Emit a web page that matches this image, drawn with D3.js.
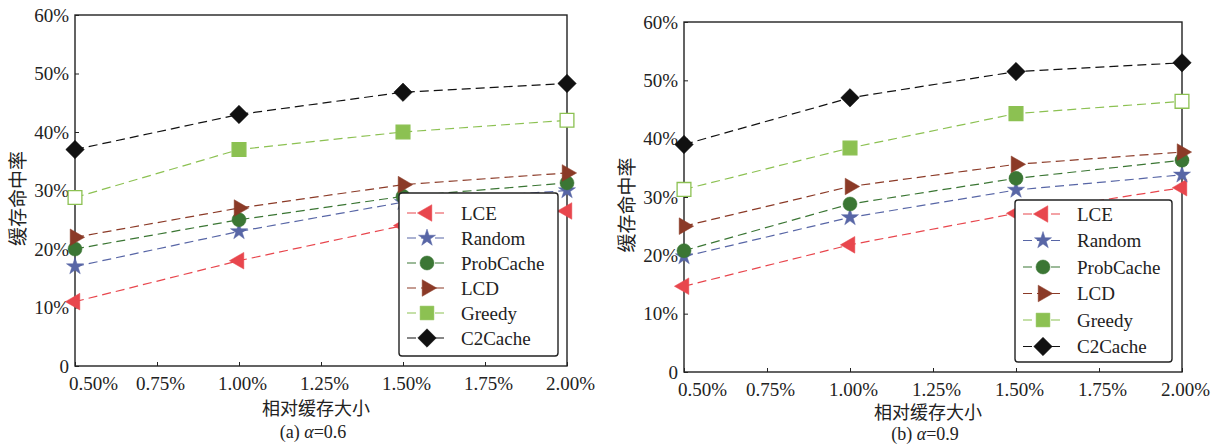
<!DOCTYPE html>
<html>
<head>
<meta charset="utf-8">
<script src="https://cdn.jsdelivr.net/npm/d3@7"></script>
<style>
  body { margin: 0; background: #fff; }
  svg { display: block; }
  .tick text { font-family: 'Liberation Serif', 'Times New Roman', serif; }
</style>
</head>
<body>
<script>
// relative cache size (%)
const sizes = [0.5, 1.0, 1.5, 2.0]
const xTicks = [0.5, 0.75, 1.0, 1.25, 1.5, 1.75, 2.0]
const yTicks = [0, 10, 20, 30, 40, 50, 60]

const names = ["LCE", "Random", "ProbCache", "LCD", "Greedy", "C2Cache"]
const colors = ["#e8464d", "#5866a6", "#3b7634", "#8b3a27", "#8cc152", "#111111"]

// hit ratio (%), alpha = 0.6
const lceA = [11, 18, 24, 26.5]
const randomA = [17, 23, 28, 30]
const probA = [20, 25, 29, 31.3]
const lcdA = [22, 27, 31, 33]
const greedyA = [28.8, 37, 40, 42]
const c2A = [37, 43, 46.8, 48.3]

// hit ratio (%), alpha = 0.9
const lceB = [14.7, 21.8, 27.2, 31.6]
const randomB = [19.8, 26.5, 31.2, 33.8]
const probB = [20.8, 28.8, 33.2, 36.3]
const lcdB = [25, 31.8, 35.6, 37.7]
const greedyB = [31.3, 38.4, 44.3, 46.4]
const c2B = [39, 47, 51.5, 53]

const W = 1214, H = 447
const serif = "'Liberation Serif', 'Times New Roman', serif"
const cjk = "'Noto Sans CJK SC', sans-serif"
const svg = d3.select("body").append("svg").attr("width", W).attr("height", H)
  .style("font-family", serif)

const symbols = [
  {type: d3.symbolTriangle, size: 120, rot: -90},
  {type: d3.symbolStar, size: 90, rot: 0},
  {type: d3.symbolCircle, size: 155, rot: 0},
  {type: d3.symbolTriangle, size: 120, rot: 90},
  {type: d3.symbolSquare, size: 190, rot: 0},
  {type: d3.symbolSquare, size: 170, rot: 45}
]

function drawPanel(p) {
  const x = d3.scaleLinear().domain([0.5, 2.0]).range([p.left, p.right])
  const y = d3.scaleLinear().domain([0, 60]).range([p.bottom, p.top])
  const g = svg.append("g")

  // frame
  g.append("rect").attr("x", p.left).attr("y", p.top)
    .attr("width", p.right - p.left).attr("height", p.bottom - p.top)
    .attr("fill", "none").attr("stroke", "#222").attr("stroke-width", 1.4)

  // y axis, ticks inward
  const yAxis = g.append("g").attr("transform", `translate(${p.left},0)`)
    .call(d3.axisRight(y).tickValues(yTicks).tickSize(4).tickFormat(d => d === 0 ? "0" : d + "%"))
    .attr("font-size", 19)
  yAxis.select(".domain").remove()
  yAxis.selectAll(".tick line").attr("stroke", "#222")
  yAxis.selectAll(".tick text").attr("x", -6).attr("text-anchor", "end").attr("fill", "#222")

  // x axis, ticks inward
  const xAxis = g.append("g").attr("transform", `translate(0,${p.bottom})`)
    .call(d3.axisTop(x).tickValues(xTicks).tickSize(4).tickFormat(d => d.toFixed(2) + "%"))
    .attr("font-size", 19)
  xAxis.select(".domain").remove()
  xAxis.selectAll(".tick line").attr("stroke", "#222")
  xAxis.selectAll(".tick text").attr("y", 24).attr("dy", null).attr("fill", "#222")
    .attr("dx", (d, i) => i === 0 ? 18 : 3)

  const line = d3.line().x((d, i) => x(sizes[i])).y(d => y(d))

  p.series.forEach((vals, k) => {
    g.append("path").datum(vals).attr("d", line)
      .attr("fill", "none").attr("stroke", colors[k]).attr("stroke-width", 1.2)
      .attr("stroke-dasharray", "9,5")
  })
  p.series.forEach((vals, k) => {
    const s = symbols[k]
    g.selectAll(null).data(vals).join("path")
      .attr("d", d3.symbol(s.type, s.size))
      .attr("transform", (d, i) => `translate(${x(sizes[i])},${y(d)}) rotate(${s.rot})`)
      .attr("fill", (d, i) => k === 4 && (i === 0 || i === vals.length - 1) ? "#fff" : colors[k])
      .attr("stroke", colors[k]).attr("stroke-width", k === 4 ? 1.3 : 0.5)
  })

  // legend
  const lg = g.append("g")
  lg.append("rect").attr("x", p.lx).attr("y", p.ly)
    .attr("width", p.lw).attr("height", p.lh).attr("rx", 3)
    .attr("fill", "#fff").attr("stroke", "#222").attr("stroke-width", 1.4)
  names.forEach((n, k) => {
    const cy = p.ly + p.row0 + k * p.rowH
    const x0 = p.lx + 8
    lg.append("line").attr("x1", x0).attr("x2", x0 + 40).attr("y1", cy).attr("y2", cy)
      .attr("stroke", colors[k]).attr("stroke-width", 1.2).attr("stroke-dasharray", "9,5")
    const s = symbols[k]
    lg.append("path").attr("d", d3.symbol(s.type, s.size))
      .attr("transform", `translate(${x0 + 20},${cy}) rotate(${s.rot})`)
      .attr("fill", colors[k]).attr("stroke", colors[k]).attr("stroke-width", 0.5)
    lg.append("text").attr("x", x0 + 54).attr("y", cy).attr("dy", "0.35em")
      .attr("font-size", 19).attr("fill", "#222").text(n)
  })

  // titles
  g.append("text").attr("transform", `translate(${p.left - 57},${(p.top + p.bottom) / 2 + 8}) rotate(-90)`)
    .attr("dy", "0.35em").attr("text-anchor", "middle").attr("font-size", 19).attr("fill", "#222")
    .attr("font-family", cjk).text("缓存命中率")
  g.append("text").attr("x", (p.left + p.right) / 2 - 5).attr("y", p.bottom + p.tY)
    .attr("text-anchor", "middle").attr("font-size", 18).attr("fill", "#222")
    .attr("font-family", cjk).text("相对缓存大小")
  const cap = g.append("text").attr("x", (p.left + p.right) / 2 - 8).attr("y", p.bottom + p.cY)
    .attr("text-anchor", "middle").attr("font-size", 18).attr("fill", "#222")
  cap.append("tspan").text(p.tag + " ")
  cap.append("tspan").attr("font-style", "italic").text("α")
  cap.append("tspan").text("=" + p.alpha)
}

drawPanel({
  left: 75, right: 567, top: 15, bottom: 366,
  series: [lceA, randomA, probA, lcdA, greedyA, c2A],
  lx: 399, ly: 193, lw: 159, lh: 163, row0: 20, rowH: 25,
  tY: 49, cY: 72, tag: "(a)", alpha: "0.6"
})
drawPanel({
  left: 684, right: 1182, top: 22, bottom: 372,
  series: [lceB, randomB, probB, lcdB, greedyB, c2B],
  lx: 1015, ly: 200, lw: 157, lh: 162, row0: 14, rowH: 26.5,
  tY: 47, cY: 68, tag: "(b)", alpha: "0.9"
})
</script>
</body>
</html>
